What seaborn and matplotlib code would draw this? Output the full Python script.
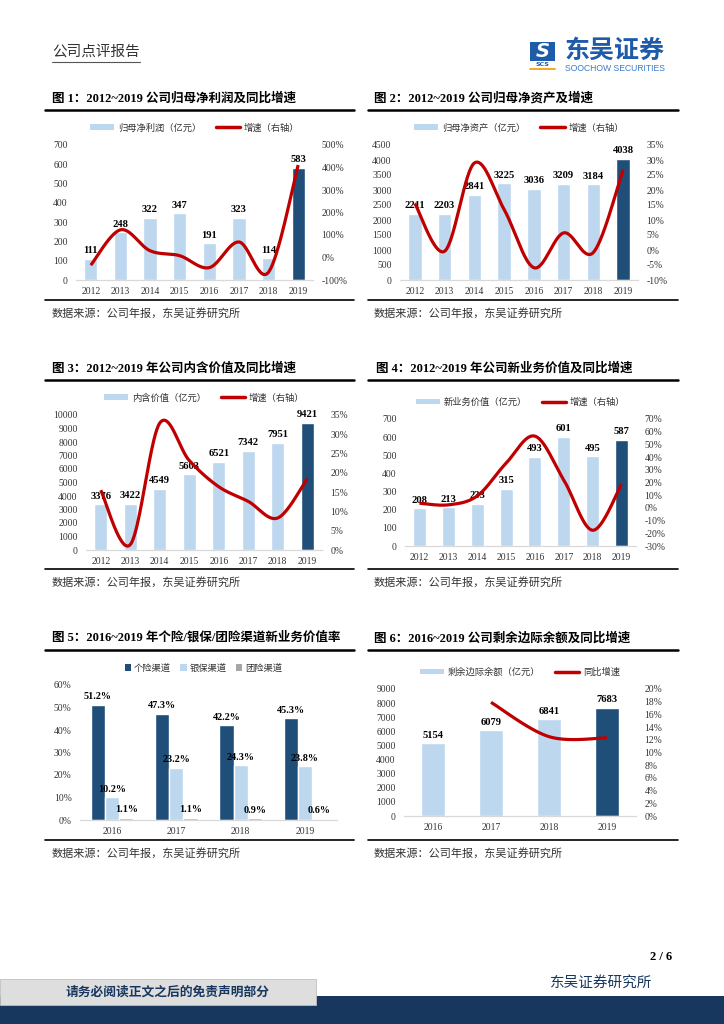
import numpy as np
import pandas as pd
import matplotlib
matplotlib.use("Agg")
import matplotlib.pyplot as plt
import seaborn as sns
from matplotlib.patches import Patch, Rectangle
from matplotlib.lines import Line2D

# ---------------- data ----------------
years8 = ["2012", "2013", "2014", "2015", "2016", "2017", "2018", "2019"]
profit = [111, 248, 322, 347, 191, 323, 114, 583]
profit_growth = [-34, 123, 30, 8, -45, 69, -65, 411]
equity = [2211, 2203, 2841, 3225, 3036, 3209, 3184, 4038]
equity_growth = [15.5, -0.4, 29.0, 13.5, -5.9, 5.7, -0.8, 26.8]
ev = [3376, 3422, 4549, 5603, 6521, 7342, 7951, 9421]
ev_growth = [15.5, 1.4, 32.9, 23.2, 16.4, 12.6, 8.3, 18.5]
nbv = [208, 213, 233, 315, 493, 601, 495, 587]
nbv_growth = [3.7, 2.4, 9.4, 35.2, 56.5, 21.9, -17.6, 18.6]
years4 = ["2016", "2017", "2018", "2019"]
channels = ["个险渠道", "银保渠道", "团险渠道"]
ch_individual = [51.2, 47.3, 42.2, 45.3]
ch_bank = [10.2, 23.2, 24.3, 23.8]
ch_group = [1.1, 1.1, 0.9, 0.6]
csm = [5154, 6079, 6841, 7683]
csm_growth = [np.nan, 17.9, 12.5, 12.3]

# ---------------- style ----------------
LIGHT = "#BDD7EE"
DARK = "#1F4E79"
RED = "#C00000"
GREY = "#A6A6A6"
NAVY = "#17375E"
TXT = "#333333"
SERIF = "Liberation Serif"
CJK = "Noto Sans CJK SC"
MIX = [SERIF, CJK]

sns.set_theme(style="white")
plt.rcParams["font.family"] = [CJK, "DejaVu Sans"]

W, H = 724, 1024
fig = plt.figure(figsize=(W / 100, H / 100), dpi=100)


def fx(x):
    return x / W


def fy(y):
    return 1 - y / H


def axpos(x0, x1, ytop, ybot):
    return [x0 / W, 1 - ybot / H, (x1 - x0) / W, (ybot - ytop) / H]


def hline(x0, x1, y, lw=1.5, color="black"):
    fig.add_artist(Line2D([fx(x0), fx(x1)], [fy(y), fy(y)], transform=fig.transFigure,
                          color=color, lw=lw))


def smooth(xs, ys, n=40):
    xs = np.asarray(xs, float)
    ys = np.asarray(ys, float)
    m = ~np.isnan(ys)
    P = np.column_stack([xs[m], ys[m]])
    out = []
    for i in range(len(P) - 1):
        p0 = P[i - 1] if i > 0 else P[i]
        p1, p2 = P[i], P[i + 1]
        p3 = P[i + 2] if i + 2 < len(P) else P[i + 1]
        c1 = p1 + (p2 - p0) / 6
        c2 = p2 - (p3 - p1) / 6
        t = np.linspace(0, 1, n)[:, None]
        seg = (1 - t) ** 3 * p1 + 3 * (1 - t) ** 2 * t * c1 + 3 * (1 - t) * t ** 2 * c2 + t ** 3 * p2
        out.append(seg if i == 0 else seg[1:])
    a = np.vstack(out)
    return a[:, 0], a[:, 1]


def style_axes(ax, ymax, ystep):
    for s in ["top", "left", "right"]:
        ax.spines[s].set_visible(False)
    ax.spines["bottom"].set_color("#D9D9D9")
    ax.spines["bottom"].set_linewidth(0.9)
    ax.set_ylim(0, ymax)
    ax.set_yticks(np.arange(0, ymax + 1e-9, ystep))
    ax.tick_params(axis="both", length=0, colors=TXT)
    ax.tick_params(axis="y", pad=6, labelsize=6.9)
    ax.tick_params(axis="x", pad=5, labelsize=6.9)
    for lab in ax.get_xticklabels() + ax.get_yticklabels():
        lab.set_fontfamily(SERIF)
    ax.set_xlabel("")
    ax.set_ylabel("")
    ax.grid(False)


def combo(pos, years, vals, growth, ymax, ystep, gmin, gmax, gstep, bar_label, line_label,
          width=0.45):
    ax = fig.add_axes(pos)
    df = pd.DataFrame({"year": years, "value": vals})
    pal = [LIGHT] * (len(years) - 1) + [DARK]
    sns.barplot(data=df, x="year", y="value", hue="year", palette=pal, legend=False,
                width=width, saturation=1, ax=ax)
    ax.set_xlim(-0.5, len(years) - 0.5)
    style_axes(ax, ymax, ystep)
    for c in ax.containers:
        ax.bar_label(c, fmt="%d", padding=2.5, fontsize=7.6, fontweight="bold",
                     fontfamily=SERIF, color="black")
    ax2 = ax.twinx()
    sx, sy = smooth(np.arange(len(years)), growth)
    ax2.plot(sx, sy, color=RED, lw=2.3, solid_capstyle="butt")
    ax2.set_ylim(gmin, gmax)
    ticks = np.arange(gmin, gmax + 1e-9, gstep)
    ax2.set_yticks(ticks)
    ax2.set_yticklabels(["%d%%" % round(t) for t in ticks], fontfamily=SERIF, fontsize=6.9,
                        color=TXT)
    ax2.tick_params(axis="y", length=0, pad=6)
    for s in ax2.spines.values():
        s.set_visible(False)
    ax2.grid(False)
    handles = [Patch(facecolor=LIGHT, edgecolor="none"), Line2D([], [], color=RED, lw=2.5)]
    ax.legend(handles, [bar_label, line_label], loc="lower center",
              bbox_to_anchor=(0.5, 1.03), ncol=2, frameon=False,
              prop={"family": CJK, "size": 6.7}, handlelength=2.6, handleheight=0.6,
              columnspacing=1.6, handletextpad=0.4, labelcolor=TXT)
    return ax, ax2


# ---------------- header ----------------
fig.text(fx(52), fy(52), "公司点评报告", fontsize=10.5, color=TXT, va="center", ha="left",
         family=CJK)
hline(52, 140, 62, lw=0.8, color="#555555")
# logo
fig.add_artist(Rectangle((fx(530), fy(61)), fx(555) - fx(530), fy(42) - fy(61),
                         transform=fig.transFigure, facecolor="#1E5BAA", edgecolor="none"))
fig.text(fx(542.5), fy(51.5), "S", fontsize=14, color="white", fontweight="bold",
         style="italic", ha="center", va="center", family="DejaVu Sans")
fig.text(fx(542.5), fy(65), "SCS", fontsize=4.5, color="#1E5BAA", fontweight="bold",
         ha="center", va="center", family="DejaVu Sans")
hline(530, 555, 69, lw=1.2, color="#F39800")
fig.text(fx(615), fy(50.5), "东吴证券", fontsize=18, color="#1E5BAA", fontweight="bold",
         ha="center", va="center", family=CJK)
fig.text(fx(615), fy(68.5), "SOOCHOW SECURITIES", fontsize=6.2, color="#3A7BC8",
         ha="center", va="center", family="Liberation Sans")

# ---------------- titles & frame lines ----------------
titles = [
    (52, 98, "图 1：2012~2019 公司归母净利润及同比增速"),
    (374, 98, "图 2：2012~2019 公司归母净资产及增速"),
    (52, 368, "图 3：2012~2019 年公司内含价值及同比增速"),
    (376, 368, "图 4：2012~2019 年公司新业务价值及同比增速"),
    (52, 638, "图 5：2016~2019 年个险/银保/团险渠道新业务价值率"),
    (374, 638, "图 6：2016~2019 公司剩余边际余额及同比增速"),
]
for x, y, t in titles:
    fig.text(fx(x), fy(y), t, fontsize=9, fontweight="bold", color="black",
             ha="left", va="center", family=MIX)

for ytitle, ysrc in [(110, 300), (380, 569), (650, 840)]:
    hline(45, 354, ytitle, lw=1.8)
    hline(368, 678, ytitle, lw=1.8)
    hline(45, 354, ysrc, lw=1.2)
    hline(368, 678, ysrc, lw=1.2)
    for xs in (52, 374):
        fig.text(fx(xs), fy(ysrc + 13), "数据来源：公司年报，东吴证券研究所", fontsize=8,
                 color=TXT, ha="left", va="center", family=CJK)

# ---------------- charts ----------------
combo(axpos(76, 313, 145, 280), years8, profit, profit_growth, 700, 100, -100, 500, 100,
      "归母净利润（亿元）", "增速（右轴）")
combo(axpos(400, 638, 145, 280), years8, equity, equity_growth, 4500, 500, -10, 35, 5,
      "归母净资产（亿元）", "增速（右轴）")
combo(axpos(86, 322, 415, 550), years8, ev, ev_growth, 10000, 1000, 0, 35, 5,
      "内含价值（亿元）", "增速（右轴）")
combo(axpos(405, 636, 419, 546), years8, nbv, nbv_growth, 700, 100, -30, 70, 10,
      "新业务价值（亿元）", "增速（右轴）")
combo(axpos(404, 636, 689, 816), years4, csm, csm_growth, 9000, 1000, 0, 20, 2,
      "剩余边际余额（亿元）", "同比增速", width=0.4)

# chart 5: grouped bars
ax5 = fig.add_axes(axpos(80, 337, 685, 820))
df5 = pd.DataFrame({
    "year": years4 * 3,
    "channel": [channels[0]] * 4 + [channels[1]] * 4 + [channels[2]] * 4,
    "value": ch_individual + ch_bank + ch_group,
})
sns.barplot(data=df5, x="year", y="value", hue="channel", hue_order=channels,
            palette=[DARK, LIGHT, GREY], width=0.66, gap=0, saturation=1, ax=ax5)
ax5.set_xlim(-0.5, 3.5)
style_axes(ax5, 60, 10)
ax5.set_yticks(np.arange(0, 61, 10))
ax5.set_yticklabels(["%d%%" % t for t in range(0, 61, 10)], fontfamily=SERIF, fontsize=6.9,
                    color=TXT)
for c in ax5.containers:
    ax5.bar_label(c, fmt="%.1f%%", padding=2.5, fontsize=7.3, fontweight="bold",
                  fontfamily=SERIF, color="black")
h5 = [Patch(facecolor=col, edgecolor="none") for col in (DARK, LIGHT, GREY)]
ax5.legend(h5, channels, loc="lower center", bbox_to_anchor=(0.48, 1.03), ncol=3,
           frameon=False, prop={"family": CJK, "size": 6.7}, handlelength=0.7,
           handleheight=0.7, columnspacing=1.0, handletextpad=0.3, labelcolor=TXT)

# ---------------- footer ----------------
fig.text(fx(672), fy(957), "2 / 6", fontsize=9, fontweight="bold", family=SERIF,
         ha="right", va="center", color="black")
fig.text(fx(652), fy(983), "东吴证券研究所", fontsize=10.5, family=CJK, ha="right",
         va="center", color=NAVY)
fig.add_artist(Rectangle((0, 0), 1, fy(996), transform=fig.transFigure,
                         facecolor=NAVY, edgecolor="none"))
fig.add_artist(Rectangle((0, fy(1005)), fx(316), fy(979) - fy(1005), transform=fig.transFigure,
                         facecolor="#DEDEDE", edgecolor="#BFBFBF", lw=0.6))
fig.text(fx(168), fy(992), "请务必阅读正文之后的免责声明部分", fontsize=9.2, fontweight="bold",
         family=CJK, ha="center", va="center", color=NAVY)

fig.savefig("out.png", dpi=100)
